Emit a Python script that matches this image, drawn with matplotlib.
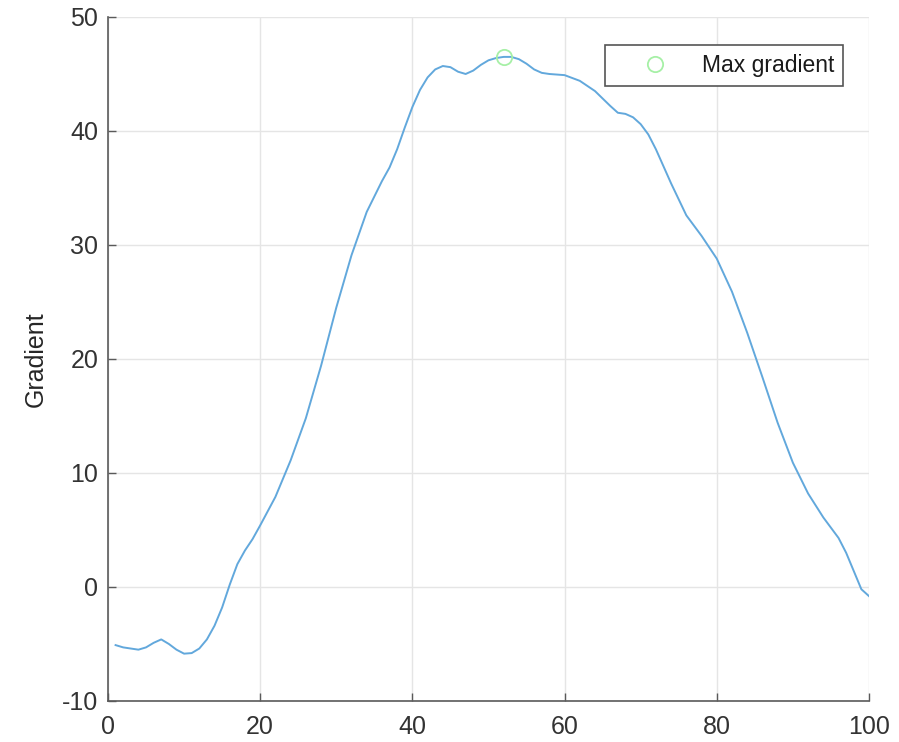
import matplotlib
matplotlib.use("Agg")
import matplotlib.pyplot as plt
from matplotlib.lines import Line2D

plt.rcParams['font.family'] = ['Liberation Sans', 'DejaVu Sans']
plt.rcParams['axes.unicode_minus'] = False

x_vals = [1, 2, 3, 4, 5, 6, 7, 8, 9, 10, 11, 12, 13, 14, 15, 16, 17, 18, 19, 20,
          22, 24, 26, 28, 30, 32, 34, 36, 37, 38, 39, 40, 41, 42, 43, 44, 45, 46, 47,
          48, 49, 50, 51, 52, 53, 54, 55, 56, 57, 58, 60, 62, 64, 66, 67, 68, 69, 70,
          71, 72, 74, 76, 78, 80, 82, 84, 86, 88, 90, 92, 94, 96, 97, 98, 99, 100]
gradient = [-5.1, -5.3, -5.4, -5.5, -5.3, -4.9, -4.6, -5.0, -5.5, -5.85, -5.8, -5.4, -4.6, -3.4, -1.8, 0.2, 2.0, 3.2, 4.2, 5.4,
            7.9, 11.1, 14.8, 19.4, 24.5, 29.1, 32.9, 35.6, 36.8, 38.4, 40.3, 42.1, 43.6, 44.7, 45.4, 45.7, 45.6, 45.2, 45.0,
            45.3, 45.8, 46.2, 46.4, 46.5, 46.5, 46.3, 45.9, 45.4, 45.1, 45.0, 44.9, 44.4, 43.5, 42.2, 41.6, 41.5, 41.2, 40.6,
            39.7, 38.4, 35.4, 32.6, 30.8, 28.8, 25.9, 22.3, 18.4, 14.4, 10.9, 8.2, 6.1, 4.3, 3.0, 1.4, -0.2, -0.8]

max_x = [52]
max_y = [46.5]

x_ticks = [0, 20, 40, 60, 80, 100]
y_ticks = [-10, 0, 10, 20, 30, 40, 50]

fig = plt.figure(figsize=(8.99, 7.42), dpi=100)
ax = fig.add_axes([0.1201, 0.0553, 0.8465, 0.9218])

ax.plot(x_vals, gradient, color='#62a8dc', linewidth=1.4)
ax.plot(max_x, max_y, 'o', markerfacecolor='none', markeredgecolor='#a6f0a6',
        markersize=11, markeredgewidth=1.3, linestyle='none')

ax.set_xlim(0, 100)
ax.set_ylim(-10, 50)
ax.set_xticks(x_ticks)
ax.set_yticks(y_ticks)
ax.grid(True, color='#e5e5e5', linewidth=1.0)
ax.set_axisbelow(True)

for s in ['top', 'right']:
    ax.spines[s].set_visible(False)
for s in ['left', 'bottom']:
    ax.spines[s].set_color('#5a5a5a')
    ax.spines[s].set_linewidth(1.2)

ax.tick_params(direction='in', length=6, width=1.0, color='#5a5a5a',
               labelsize=18, labelcolor='#333333')
ax.tick_params(axis='x', pad=10)
ax.tick_params(axis='y', pad=7)
ax.set_ylabel('Gradient', fontsize=18, color='#262626', labelpad=10)

handle = Line2D([], [], marker='o', linestyle='none', markerfacecolor='none',
                markeredgecolor='#a6f0a6', markersize=11, markeredgewidth=1.3)
leg = ax.legend([handle], ['Max gradient'], loc='upper right',
                bbox_to_anchor=(0.966, 0.959), fontsize=16.5, fancybox=False,
                framealpha=1, edgecolor='#555555', handletextpad=0.3,
                borderpad=0.4, handlelength=3.5, borderaxespad=0)
leg.get_frame().set_linewidth(1.2)
for t in leg.get_texts():
    t.set_color('#1a1a1a')

fig.savefig('out.png', dpi=100)
